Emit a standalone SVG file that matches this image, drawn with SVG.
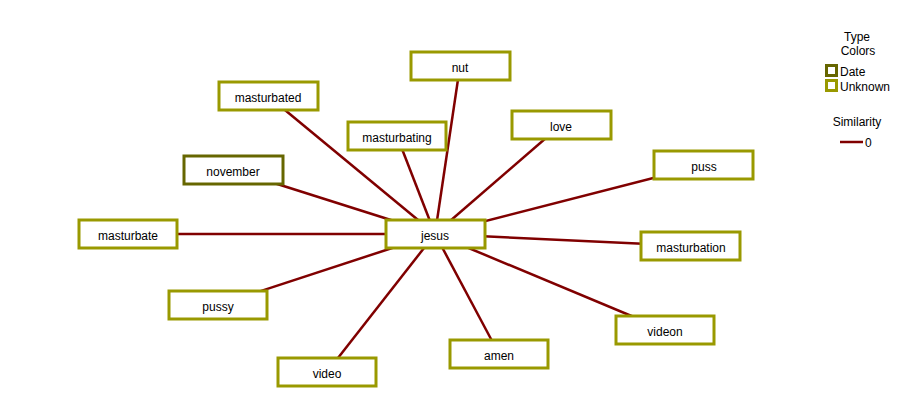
<svg xmlns="http://www.w3.org/2000/svg" width="905" height="407" viewBox="0 0 905 407">
<style>
text{font-family:"Liberation Sans",Arial,sans-serif;font-size:12px;fill:#000}
.n rect{fill:#fff;stroke:#999900;stroke-width:3}
.n.d rect{stroke:#666600}
.n text{text-anchor:middle}
#edges line{stroke:#800000;stroke-width:2.5}
</style>
<rect width="905" height="407" fill="#fff"/>
<g id="edges">
<line x1="435" y1="234" x2="460" y2="66"/>
<line x1="435" y1="234" x2="268" y2="96"/>
<line x1="435" y1="234" x2="397" y2="136"/>
<line x1="435" y1="234" x2="561" y2="125"/>
<line x1="435" y1="234" x2="704" y2="165"/>
<line x1="435" y1="234" x2="233" y2="170"/>
<line x1="435" y1="234" x2="128" y2="234"/>
<line x1="435" y1="234" x2="691" y2="246"/>
<line x1="435" y1="234" x2="218" y2="305"/>
<line x1="435" y1="234" x2="665" y2="330"/>
<line x1="435" y1="234" x2="499" y2="354"/>
<line x1="435" y1="234" x2="327" y2="372"/>
</g>
<g id="n-nut" class="n"><rect x="411" y="52" width="99" height="28"/><text x="460" y="72">nut</text></g>
<g id="n-masturbated" class="n"><rect x="219" y="82" width="99" height="28"/><text x="268" y="102">masturbated</text></g>
<g id="n-masturbating" class="n"><rect x="348" y="122" width="98" height="28"/><text x="397" y="142">masturbating</text></g>
<g id="n-love" class="n"><rect x="512" y="111" width="99" height="28"/><text x="561" y="131">love</text></g>
<g id="n-puss" class="n"><rect x="654" y="151" width="99" height="28"/><text x="704" y="171">puss</text></g>
<g id="n-november" class="n d"><rect x="184" y="156" width="99" height="28"/><text x="233" y="176">november</text></g>
<g id="n-masturbate" class="n"><rect x="79" y="220" width="98" height="28"/><text x="128" y="240">masturbate</text></g>
<g id="n-jesus" class="n"><rect x="386" y="220" width="99" height="28"/><text x="435" y="240">jesus</text></g>
<g id="n-masturbation" class="n"><rect x="641" y="232" width="99" height="28"/><text x="691" y="252">masturbation</text></g>
<g id="n-pussy" class="n"><rect x="169" y="291" width="98" height="28"/><text x="218" y="311">pussy</text></g>
<g id="n-videon" class="n"><rect x="616" y="316" width="98" height="28"/><text x="665" y="336">videon</text></g>
<g id="n-amen" class="n"><rect x="450" y="340" width="98" height="28"/><text x="499" y="360">amen</text></g>
<g id="n-video" class="n"><rect x="278" y="358" width="98" height="28"/><text x="327" y="378">video</text></g>
<g id="legend">
<text x="857" y="41" text-anchor="middle">Type</text>
<text x="858" y="55" text-anchor="middle">Colors</text>
<rect x="826.5" y="65.5" width="10" height="10" fill="#fff" stroke="#666600" stroke-width="3"/>
<text x="840" y="76">Date</text>
<rect x="826.5" y="80.5" width="10" height="10" fill="#fff" stroke="#999900" stroke-width="3"/>
<text x="840" y="91">Unknown</text>
<text x="857" y="126" text-anchor="middle">Similarity</text>
<line x1="840" y1="142" x2="863" y2="142" stroke="#800000" stroke-width="2.5"/>
<text x="865" y="147">0</text>
</g>
</svg>
